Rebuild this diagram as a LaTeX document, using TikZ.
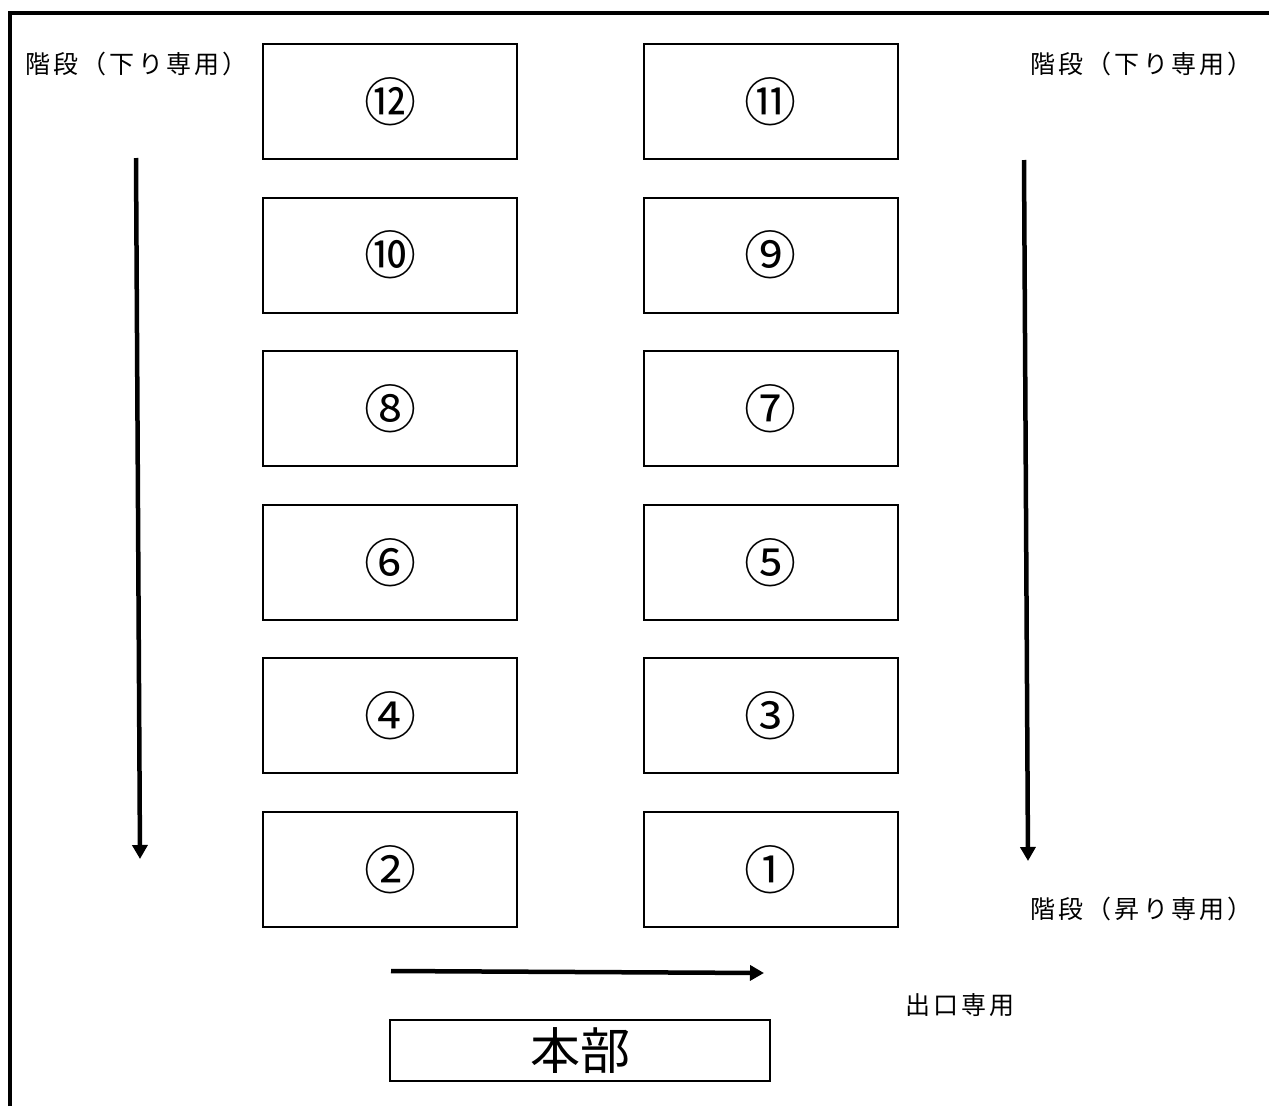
\documentclass[tikz,border=0pt]{standalone}
\usepackage{fontspec}
\setmainfont{Noto Sans CJK JP}
\newfontfamily\spacedjp[LetterSpace=13]{Noto Sans CJK JP}
\usetikzlibrary{arrows.meta}
\tikzset{
  room/.style={draw, line width=2pt, minimum width=254pt, minimum height=115pt, inner sep=0pt, font=\fontsize{52}{56}\selectfont},
  lbl/.style={inner sep=0pt, anchor=west, font=\spacedjp\fontsize{25}{28}\selectfont},
  flow/.style={line width=4.5pt, -{Triangle[width=15pt,length=14pt]}},
  wall/.style={line width=4pt}
}
\begin{document}
\begin{tikzpicture}[x=1pt,y=-1pt]
\useasboundingbox (0,0) rectangle (1269,1106);
\draw[wall] (10,1106) -- (10,13) -- (1269,13);
% rooms
\foreach \n/\lt/\rt [count=\i from 0] in {12/⑫/⑪,10/⑩/⑨,8/⑧/⑦,6/⑥/⑤,4/④/③,2/②/①}{
  \node[room] (L\n) at (390,{101.5+153.6*\i}) {\lt};
  \node[room] (R\n) at (770.5,{101.5+153.6*\i}) {\rt};
}
\node[lbl] (tl) at (25,64) {階段（下り専用）};
\node[lbl] (tr) at (1030,64) {階段（下り専用）};
\node[lbl] (br) at (1030,909) {階段（昇り専用）};
\node[lbl] (ex) at (905,1005) {出口専用};
\node[draw, line width=2pt, minimum width=380pt, minimum height=61pt, inner sep=0pt, font=\fontsize{50}{54}\selectfont] (hq) at (580,1050.5) {本部};
\coordinate (a1) at (136,158);
\coordinate (a2) at (140,859);
\coordinate (b1) at (1024,160);
\coordinate (b2) at (1028,861);
\coordinate (c1) at (391,971);
\coordinate (c2) at (764,973);
\draw[flow] (a1) -- (a2);
\draw[flow] (b1) -- (b2);
\draw[flow] (c1) -- (c2);
\end{tikzpicture}
\end{document}
